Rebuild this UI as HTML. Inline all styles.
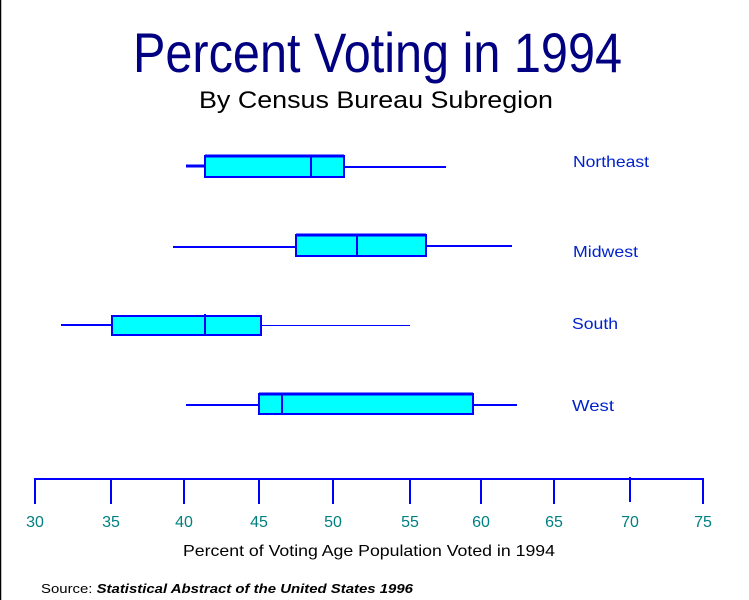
<!DOCTYPE html>
<html><head><style>body{margin:0;background:#fff}svg{display:block}</style></head><body>
<svg width="749" height="600" xmlns="http://www.w3.org/2000/svg" font-family="Liberation Sans, Arial, sans-serif">
<rect width="749" height="600" fill="#fff"/>
<line x1="0.5" y1="0" x2="0.5" y2="600" stroke="#000" stroke-width="1.5"/>
<text x="133" y="72" font-size="56" fill="#000080" textLength="489" lengthAdjust="spacingAndGlyphs">Percent Voting in 1994</text>
<text x="199" y="108" font-size="24" fill="#000" textLength="354" lengthAdjust="spacingAndGlyphs">By Census Bureau Subregion</text>
<g stroke="#0000ff" fill="#00ffff">
<line x1="186" y1="166" x2="205" y2="166" stroke-width="3"/>
<line x1="344" y1="167" x2="446" y2="167" stroke-width="2"/>
<rect x="205" y="156" width="139" height="21" stroke-width="2"/>
<line x1="205" y1="156" x2="344" y2="156" stroke-width="3"/>
<line x1="311" y1="156" x2="311" y2="177" stroke-width="2"/>

<line x1="173" y1="247" x2="296" y2="247" stroke-width="2"/>
<line x1="426" y1="246" x2="512" y2="246" stroke-width="2"/>
<rect x="296" y="235" width="130" height="21" stroke-width="2"/>
<line x1="296" y1="235" x2="426" y2="235" stroke-width="3"/>
<line x1="357" y1="235" x2="357" y2="256" stroke-width="2"/>

<line x1="61" y1="325" x2="112" y2="325" stroke-width="2"/>
<line x1="261" y1="325.5" x2="410" y2="325.5" stroke-width="1"/>
<rect x="112" y="316" width="149" height="19" stroke-width="2"/>
<line x1="205" y1="314" x2="205" y2="335" stroke-width="2"/>

<line x1="186" y1="405" x2="259" y2="405" stroke-width="2"/>
<line x1="473" y1="405" x2="517" y2="405" stroke-width="2"/>
<rect x="259" y="394" width="214" height="20" stroke-width="2"/>
<line x1="259" y1="394" x2="473" y2="394" stroke-width="3"/>
<line x1="282" y1="394" x2="282" y2="414" stroke-width="2"/>
</g>
<g font-size="16" fill="#0022cc">
<text x="573" y="167" textLength="76" lengthAdjust="spacingAndGlyphs">Northeast</text>
<text x="573" y="257" textLength="65" lengthAdjust="spacingAndGlyphs">Midwest</text>
<text x="572" y="329" textLength="46" lengthAdjust="spacingAndGlyphs">South</text>
<text x="572" y="411" textLength="42" lengthAdjust="spacingAndGlyphs">West</text>
</g>
<g stroke="#0000ff" stroke-width="2">
<line x1="34" y1="479" x2="704" y2="479"/>
<line x1="35" y1="479" x2="35" y2="504"/>
<line x1="111" y1="479" x2="111" y2="504"/>
<line x1="184" y1="479" x2="184" y2="504"/>
<line x1="259" y1="479" x2="259" y2="504"/>
<line x1="333" y1="479" x2="333" y2="504"/>
<line x1="410" y1="479" x2="410" y2="504"/>
<line x1="481" y1="479" x2="481" y2="504"/>
<line x1="554" y1="479" x2="554" y2="504"/>
<line x1="630" y1="477" x2="630" y2="502"/>
<line x1="703" y1="479" x2="703" y2="504"/>
</g>
<g font-size="16" fill="#008080" text-anchor="middle">
<text x="35" y="527">30</text><text x="111" y="527">35</text><text x="184" y="527">40</text>
<text x="259" y="527">45</text><text x="333" y="527">50</text><text x="410" y="527">55</text>
<text x="481" y="527">60</text><text x="554" y="527">65</text><text x="630" y="527">70</text>
<text x="703" y="527">75</text>
</g>
<text x="183" y="556" font-size="16" fill="#000" textLength="372" lengthAdjust="spacingAndGlyphs">Percent of Voting Age Population Voted in 1994</text>
<text x="41" y="593" font-size="13" fill="#000" textLength="372" lengthAdjust="spacingAndGlyphs">Source: <tspan font-weight="bold" font-style="italic">Statistical Abstract of the United States 1996</tspan></text>
</svg>
</body></html>
